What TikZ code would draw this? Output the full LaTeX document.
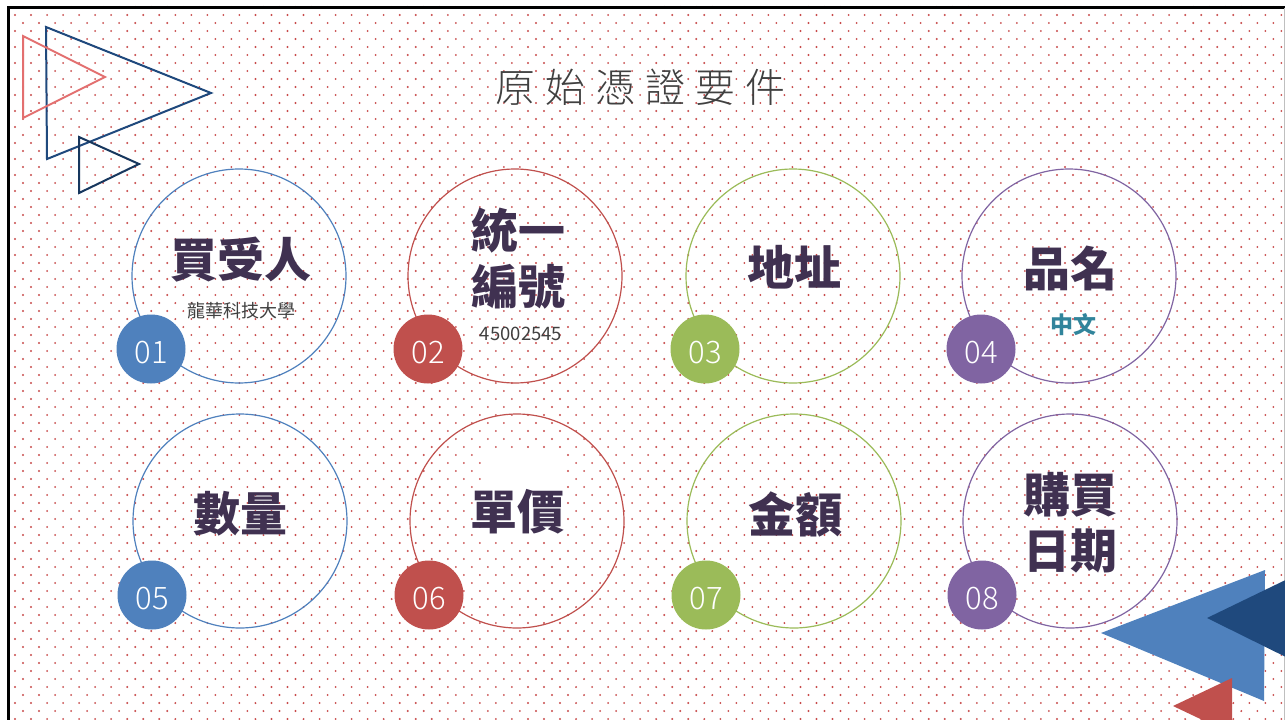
\documentclass[tikz,border=0pt]{standalone}
\usepackage{fontspec}
\newfontfamily\cjk{Noto Sans CJK TC}
\newfontfamily\cjklight{Noto Sans CJK TC}[UprightFont={* Light}]
\newfontfamily\cjktitle{Noto Sans CJK TC}[UprightFont={* Light}, LetterSpace=25]
\usetikzlibrary{calc, positioning}

\definecolor{ringblue}{HTML}{4F81BD}
\definecolor{ringred}{HTML}{C0504D}
\definecolor{ringgreen}{HTML}{9BBB59}
\definecolor{ringpurple}{HTML}{8064A2}
\definecolor{labelink}{HTML}{403151}
\definecolor{notegray}{HTML}{404040}
\definecolor{noteteal}{HTML}{31849B}
\definecolor{trinavy}{HTML}{1F497D}
\definecolor{trideep}{HTML}{17375E}
\definecolor{tripink}{HTML}{E36F6F}
\definecolor{dotred}{HTML}{C84A4A}

\tikzset{
    ring/.style={circle, draw=#1, line width=1.2pt, minimum size=214pt, inner sep=0pt},
    badge/.style={circle, fill=#1, minimum size=69pt, inner sep=0pt, text=white, text height=28.5pt, font=\cjklight\fontsize{31}{31}\selectfont},
    itemname/.style={text=labelink, font=\cjk\bfseries\fontsize{47}{56}\selectfont, align=center, inner sep=0pt},
    itemnote/.style={text=notegray, font=\cjk\fontsize{18}{20}\selectfont, inner sep=0pt},
    hollowtri/.style={draw=#1, line width=2pt, line join=miter},
    title/.style={text=notegray, font=\cjktitle\fontsize{40}{42}\selectfont, inner sep=0pt}
}

\begin{document}
\begin{tikzpicture}[x=1pt, y=-1pt]
    \useasboundingbox (0,0) rectangle (1285,720);
    \clip (0,0) rectangle (1285,720);
    \fill[white] (0,0) rectangle (1285,720);

    % dotted paper, one path per row
    \foreach \k in {-1,...,88} {
        \pgfmathsetmacro\rowx{15+8*mod(\k+2,2)}
        \fill[dotred] \foreach \j in {0,...,80} {
            ({\rowx+16.03*\j}, {15+8*\k}) circle (1.05)
        };
    }
    % blank patch behind the unit price label
    \fill[white] (481,453) rectangle (563,540);

    % page frame
    \draw[line width=3pt] (8,730) -- (8,7.5) -- (1290,7.5);
    \draw[black!25, line width=1pt] (1284,7.5) -- (1284,730);

    % corner triangles
    \draw[hollowtri=trinavy] (46,27) -- (47,159) -- (211,93) -- cycle;
    \draw[hollowtri=tripink] (23,36) -- (23,118) -- (105,77) -- cycle;
    \draw[hollowtri=trideep] (79,137) -- (79,193) -- (139,164) -- cycle;

    \fill[ringblue] (1101,633) -- (1265,570) -- (1264,701) -- cycle;
    \fill[trinavy] (1207,618) -- (1300,573) -- (1300,664) -- cycle;
    \fill[ringred] (1173,706) -- (1232,678) -- (1232,734) -- cycle;

    % title
    \node[title] (Title) at (640,87) {原始憑證要件};

    % first row
    \node[ring=ringblue] (Buyer) at (239,276) {};
    \node[ring=ringred] (TaxId) at (515,276) {};
    \node[ring=ringgreen] (Addr) at (793,276) {};
    \node[ring=ringpurple] (Goods) at (1069,276) {};

    \node[itemname] (BuyerTxt) at ([shift={(2,-16)}]Buyer) {買受人};
    \node[itemnote] (BuyerNote) at ([shift={(2,35)}]Buyer) {龍華科技大學};
    \node[itemname] (TaxIdTxt) at ([shift={(3,-17)}]TaxId) {統一\\編號};
    \node[itemnote, font=\cjk\fontsize{18.5}{19}\selectfont] (TaxIdNote) at ([shift={(6,58)}]TaxId) {45002545};
    \node[itemname] (AddrTxt) at ([shift={(1,-9)}]Addr) {地址};
    \node[itemname] (GoodsTxt) at ([shift={(1,-8)}]Goods) {品名};
    \node[itemnote, text=noteteal, font=\cjk\bfseries\fontsize{23}{24}\selectfont] (GoodsNote) at ([shift={(4,49)}]Goods) {中文};

    \node[badge=ringblue] (N1) at ([shift={(-88,73)}]Buyer) {01};
    \node[badge=ringred] (N2) at ([shift={(-87,73)}]TaxId) {02};
    \node[badge=ringgreen] (N3) at ([shift={(-88,73)}]Addr) {03};
    \node[badge=ringpurple] (N4) at ([shift={(-88,73)}]Goods) {04};

    % second row
    \node[ring=ringblue] (Qty) at (240,521) {};
    \node[ring=ringred] (Price) at (517,521) {};
    \node[ring=ringgreen] (Amount) at (794,521) {};
    \node[ring=ringpurple] (Date) at (1070,521) {};

    \node[itemname] (QtyTxt) at ([shift={(0,-7)}]Qty) {數量};
    \node[itemname] (PriceTxt) at ([shift={(0,-9)}]Price) {單價};
    \node[itemname] (AmountTxt) at ([shift={(1,-7)}]Amount) {金額};
    \node[itemname] (DateTxt) at ([shift={(0,2)}]Date) {購買\\日期};

    \node[badge=ringblue] (N5) at ([shift={(-88,74)}]Qty) {05};
    \node[badge=ringred] (N6) at ([shift={(-88,74)}]Price) {06};
    \node[badge=ringgreen] (N7) at ([shift={(-88,74)}]Amount) {07};
    \node[badge=ringpurple] (N8) at ([shift={(-88,74)}]Date) {08};
\end{tikzpicture}
\end{document}
